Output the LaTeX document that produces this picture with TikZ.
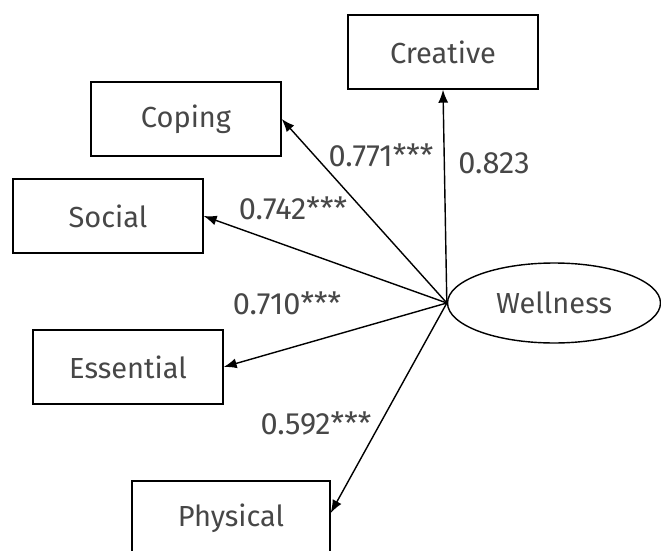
\documentclass[tikz,border=0pt]{standalone}
\usepackage{fontspec}
\setmainfont{Fira Sans}
\usepackage{xcolor}
\usepackage{tikz}
\usetikzlibrary{shapes.geometric,arrows.meta}
\definecolor{txt}{rgb}{0.28,0.28,0.28}

\begin{document}
\begin{tikzpicture}[x=0.02cm,y=-0.02cm,
		box/.style={draw,thick,fill=white,minimum width=3.8cm,minimum height=1.48cm,text=txt,font=\fontsize{16.5}{18}\selectfont},
		path/.style={thick,-{Latex[length=2.6mm,width=2mm]}},
		coef/.style={text=txt,font=\fontsize{17.5}{19}\selectfont}]
			\useasboundingbox (0,0) rectangle (661,550);
			\coordinate (c1) at (443,52);
			\coordinate (c2) at (186,119);
			\coordinate (c3) at (108,216);
			\coordinate (c4) at (128,367);
			\coordinate (c5) at (231,518);
			\coordinate (c6) at (554,303);
			
			\node (cre) at (c1) [box] {Creative};
			\node (cop) at (c2) [box] {Coping};
			\node (soc) at (c3) [box] {Social};
			\node (ess) at (c4) [box] {Essential};
			\node (phy) at (c5) [box,minimum width=3.96cm] {Physical};
			\node (wel) at (c6) [draw,thick,ellipse,minimum width=4.26cm,minimum height=1.6cm,text=txt,font=\fontsize{16.5}{18}\selectfont] {Wellness};
			
			\draw[path] (wel.west) -- (cre.south);
			\draw[path] (wel.west) -- (cop.east);
			\draw[path] (wel.west) -- (soc.east);
			\draw[path] (wel.west) -- (ess.east);
			\draw[path] (wel.west) -- ([yshift=0.1cm]phy.east);
			
			\node (l1) at (494,163) [coef] {0.823};
			\node (l2) at (381,155) [coef] {0.771***};
			\node (l3) at (293,208) [coef] {0.742***};
			\node (l4) at (287,303) [coef] {0.710***};
			\node (l5) at (316,423) [coef] {0.592***};
		\end{tikzpicture}
\end{document}
